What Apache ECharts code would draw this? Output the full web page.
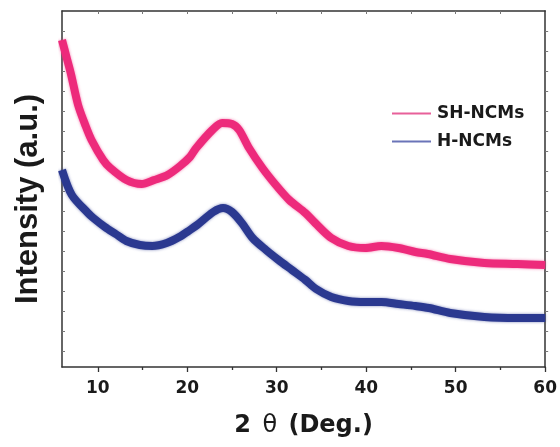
<!DOCTYPE html>
<html>
<head>
<meta charset="utf-8">
<script src="https://cdn.jsdelivr.net/npm/echarts@6/dist/echarts.min.js"></script>
<style>html,body{margin:0;padding:0;background:#fff}#c{width:560px;height:447px}</style>
</head>
<body>
<div id="c"></div>
<script>
// 2θ (degrees) and intensity (arbitrary units)
const shTheta = [6.0, 6.5, 7.0, 7.8, 8.6, 9.3, 10.6, 11.4, 13.2, 14.9, 16.3, 17.8, 19.2, 20.3, 21.0, 22.8, 23.9, 25.0, 25.8, 26.9, 28.4, 29.9, 31.4, 33.2, 34.3, 36.1, 38.0, 39.9, 41.7, 43.6, 45.5, 46.9, 49.4, 53.2, 56.9, 60.0];
const shIntensity = [16.35, 15.5, 14.65, 13.1, 12.1, 11.35, 10.35, 9.95, 9.35, 9.15, 9.35, 9.6, 10.05, 10.5, 10.95, 11.85, 12.2, 12.15, 11.85, 10.95, 9.95, 9.1, 8.35, 7.7, 7.2, 6.45, 6.05, 5.95, 6.05, 5.95, 5.75, 5.65, 5.4, 5.2, 5.15, 5.1];
const hTheta = [6.0, 7.1, 8.9, 9.5, 10.8, 12.0, 13.2, 14.7, 16.1, 17.7, 19.1, 20.3, 21.1, 22.9, 24.0, 25.0, 26.1, 27.3, 28.8, 30.2, 31.7, 33.2, 34.4, 36.1, 38.0, 39.9, 41.7, 43.6, 45.5, 47.0, 49.4, 53.2, 56.9, 60.0];
const hIntensity = [9.85, 8.6, 7.7, 7.45, 7.0, 6.65, 6.3, 6.1, 6.05, 6.2, 6.5, 6.85, 7.1, 7.75, 7.95, 7.75, 7.2, 6.45, 5.85, 5.35, 4.85, 4.35, 3.9, 3.5, 3.3, 3.25, 3.25, 3.15, 3.05, 2.95, 2.7, 2.5, 2.45, 2.45];
const seriesNames = ['SH-NCMs', 'H-NCMs'];
const xMajorTicks = [10, 20, 30, 40, 50, 60];
const xMinorTicks = [15, 25, 35, 45, 55];
const xTopTicks = [10, 15, 20, 25, 30, 35, 40, 45, 50, 55];
const yTicks = [0.8, 1.8, 2.8, 3.8, 4.8, 5.8, 6.8, 7.8, 8.8, 9.8, 10.8, 11.8, 12.8, 13.8, 14.8, 15.8, 16.8];

const pink = '#ED2A7B';
const blue = '#2B3990';
const axisCol = '#333333';
const hFont = '"DejaVu Sans", sans-serif';

const chart = echarts.init(document.getElementById('c'), null, {renderer: 'canvas'});
const zip = (a, b) => a.map((v, i) => [v, b[i]]);

chart.setOption({
  animation: false,
  backgroundColor: '#ffffff',
  grid: {left: 62, right: 13, top: 11, bottom: 80},
  legend: {
    orient: 'vertical', left: 387, top: 100,
    itemWidth: 39, itemHeight: 2, itemGap: 11,
    icon: 'rect',
    data: [
      {name: seriesNames[0], itemStyle: {color: '#E8609A'}},
      {name: seriesNames[1], itemStyle: {color: '#6A74B8'}}
    ],
    textStyle: {fontFamily: hFont, fontWeight: 'bold', fontSize: 17, color: '#1a1a1a', padding: [0, 0, 0, 1]}
  },
  xAxis: [
    {
      type: 'value', position: 'bottom', min: 6, max: 60,
      axisLine: {show: true, onZero: false, lineStyle: {color: axisCol, width: 1.5}},
      axisTick: {show: true, inside: false, length: 5, customValues: xMajorTicks, lineStyle: {color: axisCol, width: 1.3}},
      axisLabel: {customValues: xMajorTicks, margin: 13, fontFamily: hFont, fontWeight: 'bold', fontSize: 17, color: '#1a1a1a'},
      splitLine: {show: false},
      name: '2 {t|θ} (Deg.)', nameLocation: 'middle', nameGap: 47,
      nameTextStyle: {fontFamily: hFont, fontWeight: 'bold', fontSize: 24, color: '#1a1a1a',
        rich: {t: {fontFamily: hFont, fontWeight: 'normal', fontSize: 24, color: '#1a1a1a', padding: [0, 3, 0, 3]}}}
    },
    {
      type: 'value', position: 'bottom', min: 6, max: 60,
      axisLine: {show: false},
      axisTick: {show: true, inside: false, length: 3, customValues: xMinorTicks, lineStyle: {color: axisCol, width: 1.3}},
      axisLabel: {show: false}, splitLine: {show: false}
    },
    {
      type: 'value', position: 'top', min: 6, max: 60,
      axisLine: {show: true, onZero: false, lineStyle: {color: axisCol, width: 1.5}},
      axisTick: {show: true, inside: true, length: 3, customValues: xTopTicks, lineStyle: {color: '#777', width: 1}},
      axisLabel: {show: false}, splitLine: {show: false}
    }
  ],
  yAxis: [
    {
      type: 'value', position: 'left', min: 0, max: 17.8,
      axisLine: {show: true, onZero: false, lineStyle: {color: axisCol, width: 1.5}},
      axisTick: {show: true, inside: true, length: 3, customValues: yTicks, lineStyle: {color: '#777', width: 1}},
      axisLabel: {show: false}, splitLine: {show: false}
    },
    {
      type: 'value', position: 'right', min: 0, max: 17.8,
      axisLine: {show: true, onZero: false, lineStyle: {color: axisCol, width: 1.5}},
      axisTick: {show: true, inside: false, length: 3, customValues: yTicks, lineStyle: {color: '#777', width: 1}},
      axisLabel: {show: false}, splitLine: {show: false}
    }
  ],
  graphic: [{
    type: 'text', x: 28, y: 199, rotation: Math.PI / 2,
    style: {text: 'Intensity (a.u.)', font: 'bold 31px "Liberation Sans", Arial, sans-serif', fill: '#1a1a1a',
      textAlign: 'center', textVerticalAlign: 'middle'}
  }],
  series: [
    {
      name: seriesNames[0], type: 'line', xAxisIndex: 0, yAxisIndex: 0,
      data: zip(shTheta, shIntensity), smooth: 0.3, showSymbol: false,
      lineStyle: {color: pink, width: 8, shadowBlur: 3, shadowColor: 'rgba(237,42,123,0.6)'},
      itemStyle: {color: pink}
    },
    {
      name: seriesNames[1], type: 'line', xAxisIndex: 0, yAxisIndex: 0,
      data: zip(hTheta, hIntensity), smooth: 0.3, showSymbol: false,
      lineStyle: {color: blue, width: 8, shadowBlur: 3, shadowColor: 'rgba(43,57,144,0.6)'},
      itemStyle: {color: blue}
    }
  ]
});
</script>
</body>
</html>
